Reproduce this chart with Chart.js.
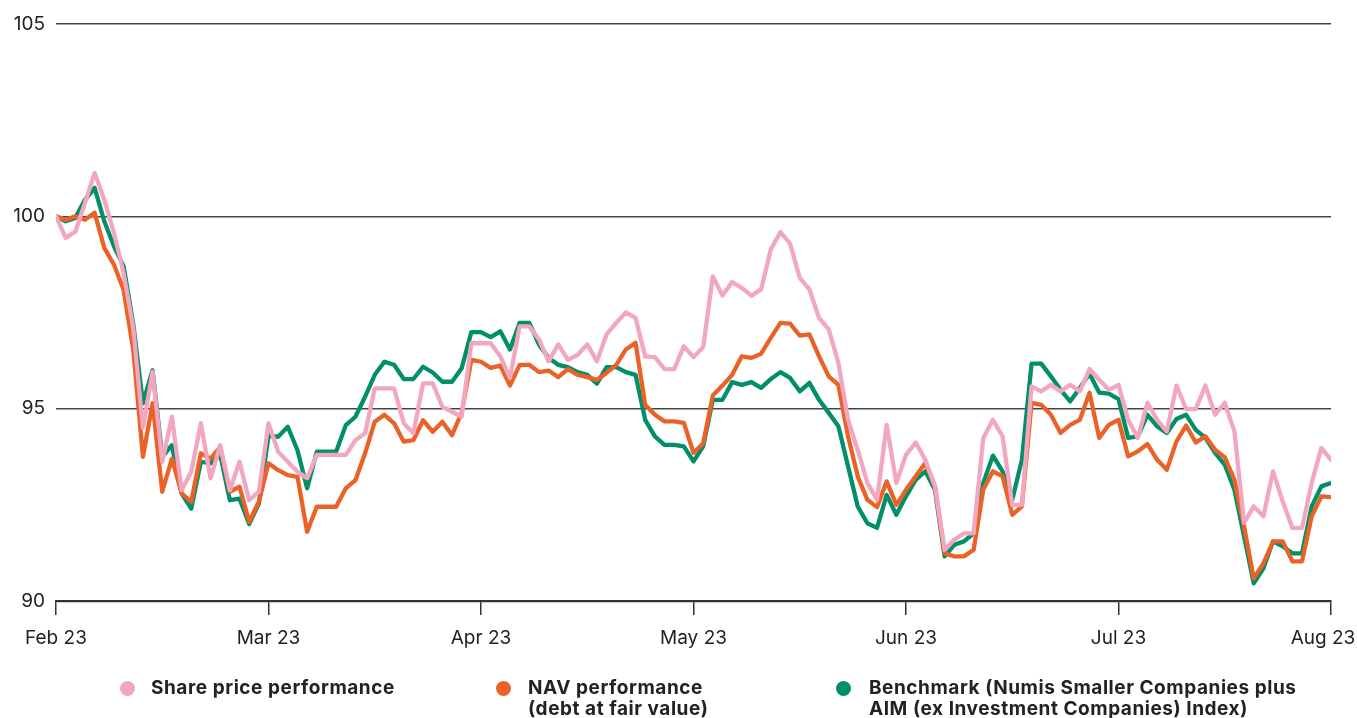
<!DOCTYPE html>
<html>
<head>
<meta charset="utf-8">
<script src="https://cdn.jsdelivr.net/npm/chart.js@4.4.0/dist/chart.umd.min.js"></script>
<style>
  html, body { margin:0; padding:0; background:#fff; }
  #wrap { position:relative; width:1357px; height:718px; overflow:hidden; }
  #c { position:absolute; left:0; top:0; }
  .leg { position:absolute; font-family:Inter, "Noto Sans", sans-serif; font-weight:700; font-size:19px; letter-spacing:0.55px; line-height:21px; color:#222; white-space:nowrap; }
  .dot { position:absolute; width:15px; height:15px; border-radius:50%; }
</style>
</head>
<body>
<div id="wrap">
  <canvas id="c" width="1357" height="718"></canvas>
</div>
<script>
// ---- data ----
const tickLabels = ['Feb 23', 'Mar 23', 'Apr 23', 'May 23', 'Jun 23', 'Jul 23', 'Aug 23'];
const pointsPerMonth = 22;
const seriesNames = ['Share price performance', 'NAV performance\n(debt at fair value)', 'Benchmark (Numis Smaller Companies plus\nAIM (ex Investment Companies) Index)'];
const seriesColors = ['#F3A6BF', '#EB6228', '#008F68'];

const sharePrice = [
  100, 99.44, 99.6, 100.35, 101.13, 100.43, 99.57, 98.52, 97.1, 94.5,
  95.96, 93.62, 94.79, 92.88, 93.36, 94.62, 93.19, 94.05, 92.88, 93.62,
  92.62, 92.84, 94.62, 93.88, 93.62, 93.36, 93.19, 93.8, 93.8, 93.8,
  93.8, 94.18, 94.36, 95.53, 95.53, 95.53, 94.62, 94.36, 95.66, 95.66,
  95.05, 94.92, 94.79, 96.7, 96.7, 96.7, 96.36, 95.8, 97.14, 97.14,
  96.8, 96.23, 96.67, 96.27, 96.4, 96.67, 96.23, 96.93, 97.23, 97.5,
  97.36, 96.36, 96.34, 96.03, 96.03, 96.62, 96.34, 96.6, 98.44, 97.94,
  98.29, 98.14, 97.94, 98.1, 99.14, 99.59, 99.29, 98.4, 98.1, 97.36,
  97.06, 96.19, 94.71, 93.93, 93.07, 92.63, 94.58, 93.07, 93.8, 94.12,
  93.67, 92.98, 91.33, 91.59, 91.76, 91.76, 94.24, 94.71, 94.28, 92.5,
  92.5, 95.58, 95.45, 95.62, 95.45, 95.62, 95.45, 96.03, 95.75, 95.49,
  95.62, 94.71, 94.24, 95.15, 94.71, 94.41, 95.6, 94.99, 94.99, 95.6,
  94.84, 95.15, 94.41, 92.03, 92.46, 92.2, 93.37, 92.59, 91.9, 91.9,
  93.07, 93.98, 93.67
];
const navPerformance = [
  100, 99.91, 100, 99.91, 100.09, 99.18, 98.74, 98.09, 96.53, 93.75,
  95.14, 92.84, 93.7, 92.8, 92.58, 93.84, 93.7, 94.0, 92.84, 92.97,
  92.06, 92.58, 93.58, 93.4, 93.27, 93.23, 91.8, 92.45, 92.45, 92.45,
  92.93, 93.14, 93.84, 94.66, 94.84, 94.62, 94.14, 94.18, 94.7, 94.4,
  94.66, 94.31, 94.9, 96.27, 96.22, 96.06, 96.12, 95.6, 96.14, 96.14,
  95.95, 95.99, 95.82, 96.03, 95.88, 95.82, 95.75, 95.93, 96.14, 96.54,
  96.71, 95.1, 94.84, 94.67, 94.67, 94.63, 93.85, 94.1, 95.34, 95.6,
  95.88, 96.36, 96.32, 96.43, 96.84, 97.23, 97.21, 96.9, 96.93, 96.36,
  95.84, 95.62, 94.28, 93.24, 92.63, 92.44, 93.11, 92.5, 92.89, 93.24,
  93.59, 92.98, 91.24, 91.16, 91.16, 91.33, 92.9, 93.37, 93.24, 92.24,
  92.46, 95.15, 95.1, 94.84, 94.37, 94.58, 94.71, 95.41, 94.24, 94.58,
  94.71, 93.76, 93.89, 94.08, 93.67, 93.41, 94.15, 94.56, 94.12, 94.28,
  93.93, 93.74, 93.15, 91.94, 90.59, 90.98, 91.55, 91.55, 91.03, 91.03,
  92.2, 92.72, 92.7
];
const benchmark = [
  100, 99.87, 99.96, 100.43, 100.74, 99.87, 99.22, 98.7, 97.2, 95.14,
  96.0, 93.75, 94.05, 92.8, 92.4, 93.62, 93.58, 93.8, 92.62, 92.66,
  92.0, 92.53, 94.3, 94.27, 94.53, 93.92, 92.93, 93.88, 93.88, 93.88,
  94.57, 94.79, 95.31, 95.88, 96.22, 96.14, 95.77, 95.77, 96.09, 95.94,
  95.7, 95.7, 96.05, 96.99, 96.99, 96.86, 97.01, 96.54, 97.23, 97.23,
  96.67, 96.32, 96.14, 96.08, 95.95, 95.88, 95.65, 96.08, 96.08, 95.95,
  95.88, 94.71, 94.28, 94.06, 94.06, 94.02, 93.63, 94.02, 95.23, 95.23,
  95.69, 95.62, 95.69, 95.54, 95.77, 95.95, 95.8, 95.45, 95.67, 95.23,
  94.89, 94.54, 93.5, 92.46, 92.02, 91.9, 92.76, 92.24, 92.72, 93.15,
  93.37, 92.89, 91.16, 91.46, 91.55, 91.76, 93.07, 93.78, 93.37, 92.63,
  93.67, 96.17, 96.17, 95.84, 95.49, 95.19, 95.54, 95.91, 95.42, 95.39,
  95.25, 94.24, 94.28, 94.84, 94.54, 94.37, 94.73, 94.84, 94.45, 94.24,
  93.85, 93.54, 92.89, 91.68, 90.46, 90.85, 91.55, 91.42, 91.24, 91.24,
  92.46, 92.98, 93.07
];
const yTicks = [90, 95, 100, 105];
// ---------------

const allSeries = [sharePrice, navPerformance, benchmark];
const FONT = 'Inter, "Noto Sans", sans-serif';

const datasets = allSeries.map((arr, k) => ({
  label: seriesNames[k],
  data: arr.map((v, i) => ({ x: i, y: v })),
  borderColor: seriesColors[k],
  backgroundColor: seriesColors[k],
  borderWidth: 4.3,
  pointRadius: 0,
  tension: 0,
  borderJoinStyle: 'round',
  borderCapStyle: 'round',
  fill: false
}));

new Chart(document.getElementById('c'), {
  type: 'line',
  data: { datasets },
  options: {
    responsive: false,
    animation: false,
    devicePixelRatio: 1,
    layout: { padding: { top: 24, right: 26, left: 0, bottom: 0 } },
    plugins: { legend: { display: false }, tooltip: { enabled: false } },
    scales: {
      x: {
        type: 'linear',
        min: 0,
        max: pointsPerMonth * (tickLabels.length - 1),
        afterBuildTicks: (s) => { s.ticks = tickLabels.map((_, i) => ({ value: i * pointsPerMonth })); },
        ticks: {
          autoSkip: false,
          maxRotation: 0,
          padding: 12,
          color: '#222',
          font: { family: FONT, size: 19 },
          callback: (v) => {
            const lbl = tickLabels[Math.round(v / pointsPerMonth)];
            return v === pointsPerMonth * (tickLabels.length - 1) ? lbl + '\u00a0\u00a0\u00a0' : lbl;
          }
        },
        grid: { drawOnChartArea: false, drawTicks: true, tickLength: 14, color: '#333', lineWidth: 1.5 },
        border: { display: true, color: '#333', width: 2.2 },
        afterFit: (s) => { s.height = 117; s.paddingLeft = 0; s.paddingRight = 0; }
      },
      y: {
        min: yTicks[0],
        max: yTicks[yTicks.length - 1],
        afterBuildTicks: (s) => { s.ticks = yTicks.map(v => ({ value: v })); },
        ticks: {
          padding: 11,
          color: '#222',
          font: { family: FONT, size: 19 },
          callback: (v) => String(v)
        },
        grid: { drawTicks: false, color: '#444', lineWidth: 1.4 },
        border: { display: false },
        afterFit: (s) => { s.width = 56; s.paddingTop = 0; s.paddingBottom = 0; }
      }
    }
  }
});

// HTML legend built from the series arrays
const legendPos = [
  { dotX: 120, textX: 151 },
  { dotX: 496, textX: 528 },
  { dotX: 836, textX: 869 }
];
const wrap = document.getElementById('wrap');
seriesNames.forEach((name, k) => {
  const dot = document.createElement('div');
  dot.className = 'dot';
  dot.style.left = legendPos[k].dotX + 'px';
  dot.style.top = '681px';
  dot.style.background = seriesColors[k];
  wrap.appendChild(dot);
  const t = document.createElement('div');
  t.className = 'leg';
  t.style.left = legendPos[k].textX + 'px';
  t.style.top = '677px';
  t.innerHTML = name.split('\n').join('<br>');
  wrap.appendChild(t);
});
</script>
</body>
</html>
